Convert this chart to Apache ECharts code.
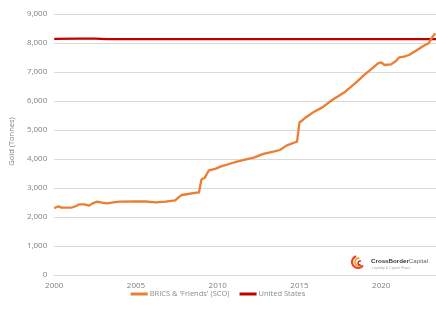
<!DOCTYPE html>
<html>
<head>
<meta charset="utf-8">
<script src="https://cdn.jsdelivr.net/npm/echarts@6/dist/echarts.min.js"></script>
<style>
  html, body { margin: 0; padding: 0; background: #fff; }
  #chart { width: 436px; height: 309px; }
</style>
</head>
<body>
<div id="chart"></div>
<script>
// BRICS & 'Friends' (SCO) gold holdings
const bricsYears = [2000, 2000.24, 2000.44, 2001.04, 2001.34, 2001.54, 2001.84, 2002.14, 2002.34, 2002.63, 2002.93, 2003.23, 2003.6, 2004.0, 2005.0, 2005.6, 2006.2, 2006.8, 2007.4, 2007.6, 2007.8, 2008.2, 2008.7, 2008.85, 2009.0, 2009.2, 2009.46, 2009.85, 2010.2, 2011.0, 2011.6, 2012.2, 2012.8, 2013.4, 2013.8, 2014.2, 2014.7, 2014.85, 2015.0, 2015.2, 2015.4, 2015.9, 2016.4, 2017.0, 2017.8, 2018.4, 2019.0, 2019.5, 2019.8, 2020.0, 2020.2, 2020.6, 2020.9, 2021.1, 2021.4, 2021.7, 2022.1, 2022.6, 2022.9, 2023.1, 2023.3]
const bricsValues = [2300, 2368, 2322, 2320, 2379, 2437, 2437, 2390, 2471, 2529, 2494, 2471, 2506, 2529, 2535, 2535, 2506, 2529, 2575, 2678, 2759, 2793, 2839, 2839, 3290, 3350, 3610, 3660, 3745, 3880, 3966, 4050, 4175, 4253, 4310, 4460, 4570, 4598, 5260, 5345, 5440, 5632, 5780, 6034, 6322, 6609, 6920, 7149, 7299, 7333, 7241, 7264, 7379, 7506, 7529, 7586, 7724, 7908, 7989, 8184, 8333]

// United States gold holdings
const usYears = [2000, 2001.5, 2002.5, 2003.2, 2010, 2023.35]
const usValues = [8140, 8150, 8150, 8136, 8134, 8134]

const seriesNames = ["BRICS & 'Friends' (SCO)", 'United States']
const yTicks = { min: 0, max: 9000, interval: 1000 }
const xTicks = { min: 2000, max: 2023.35, interval: 5 }

const pairs = (xs, ys) => xs.map((x, i) => [x, ys[i]])

const chart = echarts.init(document.getElementById('chart'))
chart.setOption({
  backgroundColor: '#fff',
  animation: false,
  textStyle: { fontFamily: 'Open Sans' },
  grid: { left: 46, right: 0, top: 14, bottom: 34 },
  legend: {
    data: seriesNames,
    bottom: 6,
    left: 'center',
    icon: 'rect',
    itemWidth: 17,
    itemHeight: 3,
    itemGap: 10,
    textStyle: { color: '#8c8c8c', fontSize: 7.5, padding: [0, 0, 0, -3] },
  },
  xAxis: {
    type: 'value',
    min: xTicks.min,
    max: xTicks.max,
    interval: xTicks.interval,
    axisLine: { show: true, lineStyle: { color: '#d9d9d9' } },
    axisTick: { show: false },
    splitLine: { show: false },
    axisLabel: { color: '#7f7f7f', fontSize: 8, margin: 7, showMaxLabel: false, formatter: v => String(v) },
  },
  yAxis: {
    type: 'value',
    min: yTicks.min,
    max: yTicks.max,
    interval: yTicks.interval,
    name: 'Gold (Tonnes)',
    nameLocation: 'middle',
    nameGap: 33,
    nameTextStyle: { color: '#7f7f7f', fontSize: 7.5, padding: [0, 0, 0, 6] },
    axisLine: { show: false },
    axisTick: { show: false },
    splitLine: { lineStyle: { color: '#d9d9d9', width: 1 } },
    axisLabel: {
      color: '#7f7f7f', fontSize: 8, margin: 7,
      formatter: v => v.toLocaleString('en-US'),
    },
  },
  series: [
    {
      name: seriesNames[0],
      type: 'line',
      data: pairs(bricsYears, bricsValues),
      showSymbol: false,
      lineStyle: { color: '#ed7d31', width: 2.3 },
      itemStyle: { color: '#ed7d31' },
      z: 3,
    },
    {
      name: seriesNames[1],
      type: 'line',
      data: pairs(usYears, usValues),
      showSymbol: false,
      lineStyle: { color: '#c00000', width: 2.3 },
      itemStyle: { color: '#c00000' },
      z: 2,
    },
  ],
  graphic: [
    // CrossBorder Capital logo
    { type: 'arc', shape: { cx: 358, cy: 262, r: 6, startAngle: 0.6, endAngle: 4.4 }, style: { stroke: '#e8452c', lineWidth: 2.2, fill: null } },
    { type: 'arc', shape: { cx: 359, cy: 262, r: 4, startAngle: 1.0, endAngle: 4.8 }, style: { stroke: '#f6a623', lineWidth: 1.8, fill: null } },
    { type: 'arc', shape: { cx: 360, cy: 263, r: 2, startAngle: 1.2, endAngle: 5.2 }, style: { stroke: '#b0281e', lineWidth: 1.4, fill: null } },
    {
      type: 'text', left: 371, top: 258,
      style: {
        text: '{a|CrossBorder}{b|Capital}',
        rich: {
          a: { fontSize: 6.2, fontWeight: 'bold', fill: '#333', fontFamily: 'Liberation Sans' },
          b: { fontSize: 6.2, fill: '#666', fontFamily: 'Liberation Sans' },
        },
      },
    },
    { type: 'text', left: 372, top: 266, style: { text: 'Liquidity & Capital Flows', fontSize: 3.5, fill: '#aaa' } },
  ],
})
</script>
</body>
</html>
